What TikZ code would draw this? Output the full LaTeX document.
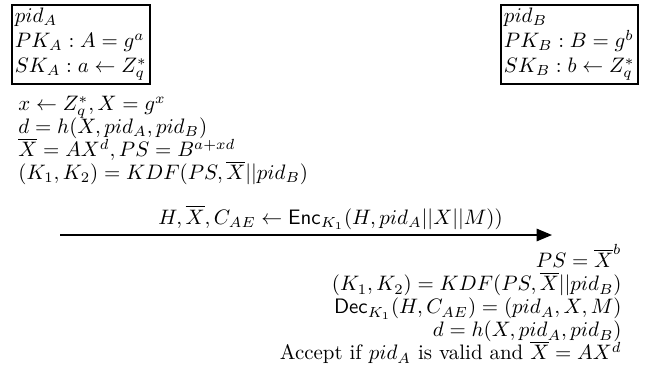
\documentclass[tikz,border=0pt]{standalone}
\usepackage{amsmath}
\usepackage{tikz}
\usetikzlibrary{arrows.meta,positioning}
\tikzset{
  >={Triangle[length=2.6mm,width=2.1mm]},
  keybox/.style={draw,thick,inner sep=1.5pt,align=left,anchor=north west},
  calc/.style={inner sep=0pt,align=#1,
    font={\fontsize{10pt}{11pt}\selectfont\lineskiplimit=-20pt}},
  calc/.default=left,
  msg/.style={->,thick},
}

\begin{document}
\begin{tikzpicture}[x=0.0168cm,y=-0.0168cm]
    \useasboundingbox (0,0) rectangle (651,377);
    % long-term keys of both parties
    \node[keybox] (ka) at (11,4) {$pid_A$\\ $PK_A: A=g^a$\\ $SK_A: a\leftarrow Z_q^*$};
    \node[keybox] (kb) at (500,4) {$pid_B$\\ $PK_B: B=g^b$\\ $SK_B: b\leftarrow Z_q^*$};
    % sender side
    \node[calc,anchor=north west] (sa) at (18,96) {$x\leftarrow Z_q^*, X=g^x$\\
      $d=h(X,pid_A,pid_B)$\\
      $\overline{X}=AX^d, PS=B^{a+xd}$\\
      $(K_1,K_2)=KDF(PS,\overline{X}||pid_B)$};
    % message
    \coordinate (m0) at (60,235);
    \coordinate (m1) at (552,235);
    \draw[msg] (m0) -- node[pos=0.55,above=-1pt] (ml) {$H,\overline{X},C_{AE}\leftarrow \mathsf{Enc}_{K_1}(H,pid_A||X||M))$} (m1);
    % receiver side
    \node[calc=right,anchor=north east] (rb) at (622,244) {$PS=\overline{X}^b$\\
      $(K_1,K_2)=KDF(PS,\overline{X}||pid_B)$\\
      $\mathsf{Dec}_{K_1}(H,C_{AE})=(pid_A,X,M)$\\
      $d=h(X,pid_A,pid_B)$\\
      Accept if $pid_A$ is valid and $\overline{X}=AX^d$};
\end{tikzpicture}
\end{document}
